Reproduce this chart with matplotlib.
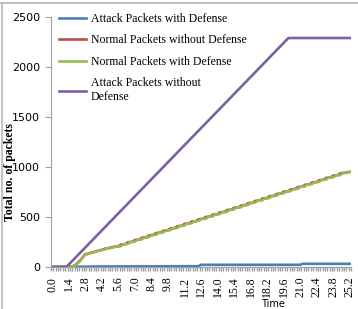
import matplotlib
matplotlib.use('Agg')
import matplotlib.pyplot as plt
import numpy as np
from matplotlib.lines import Line2D

# category axis: time steps 0.0 .. 25.2 every 0.2
time = np.round(np.arange(127) * 0.2, 1)
tick_labels = ['%.1f' % t for t in np.round(np.arange(0, 25.3, 1.4), 1)]

# blue and purple read as corner points
blue_t = [0.0, 4.0, 12.4, 12.6, 21.0, 21.2, 25.2]
blue_v = [0, 5, 8, 22, 22, 32, 32]
purple_t = [0.0, 1.2, 20.0, 25.2]
purple_v = [0, 0, 2290, 2290]

normal_no_def = [0, 0, 0, 0, 0, 0, 0, 0, 3, 10, 25, 45, 70, 100, 128, 132, 140, 147, 152, 160,
                 167, 171, 180, 187, 189, 196, 201, 204, 206, 224, 227, 229, 247, 250, 252, 270,
                 273, 275, 293, 296, 298, 316, 319, 321, 339, 342, 344, 362, 365, 367, 385, 388,
                 390, 408, 411, 413, 431, 434, 436, 454, 457, 459, 477, 480, 482, 500, 503, 505,
                 523, 526, 528, 546, 549, 551, 569, 572, 574, 592, 595, 597, 615, 618, 620, 638,
                 641, 643, 661, 664, 666, 684, 687, 689, 707, 710, 712, 730, 733, 735, 753, 756,
                 758, 776, 779, 781, 799, 802, 804, 822, 825, 827, 845, 848, 850, 868, 871, 873,
                 891, 894, 896, 914, 917, 919, 937, 940, 942, 948, 952]
normal_def = [0, 0, 0, 0, 0, 0, 0, 0, 2, 8, 20, 40, 65, 95, 125, 130, 135, 145, 150, 155,
              165, 170, 172, 185, 188, 190, 200, 202, 205, 207, 226, 228, 230, 249, 251, 253,
              272, 274, 276, 295, 297, 299, 318, 320, 322, 341, 343, 345, 364, 366, 368, 387,
              389, 391, 410, 412, 414, 433, 435, 437, 456, 458, 460, 479, 481, 483, 502, 504,
              506, 525, 527, 529, 548, 550, 552, 571, 573, 575, 594, 596, 598, 617, 619, 621,
              640, 642, 644, 663, 665, 667, 686, 688, 690, 709, 711, 713, 732, 734, 736, 755,
              757, 759, 778, 780, 782, 801, 803, 805, 824, 826, 828, 847, 849, 851, 870, 872,
              874, 893, 895, 897, 916, 918, 920, 939, 941, 943, 950]

W, H = 358, 309
fig = plt.figure(figsize=(W / 100, H / 100), dpi=100)
ax = fig.add_axes([51 / W, 42 / H, 300 / W, 250 / H])

ax.plot(blue_t, blue_v, color='#4a7ebb', lw=1.9, label='Attack Packets with Defense')
ax.plot(time, normal_no_def, color='#be4b48', lw=1.9, label='Normal Packets without Defense')
ax.plot(time, normal_def, color='#98b954', lw=1.9, label='Normal Packets with Defense')
ax.plot(purple_t, purple_v, color='#7d60a0', lw=1.9, label='Attack Packets without\nDefense')

ax.set_xlim(-0.1, 25.3)
ax.set_ylim(0, 2500)
ax.set_yticks(np.arange(0, 2501, 500))
ax.set_xticks(np.round(np.arange(0, 25.3, 1.4), 1))
ax.set_xticklabels(tick_labels, rotation=90, family='Liberation Serif', fontsize=8.5)
ax.set_xticks(np.arange(-0.1, 25.31, 0.2), minor=True)
ax.tick_params(axis='x', which='major', length=0, pad=7)
ax.tick_params(axis='x', which='minor', length=3, color='#a0a0a0', width=1)
ax.tick_params(axis='y', length=4, color='#a0a0a0', labelsize=8, pad=4)

for s in ['top', 'right']:
    ax.spines[s].set_visible(False)
ax.spines['left'].set_color('#a0a0a0')
ax.spines['bottom'].set_color('#a0a0a0')

ax.set_ylabel('Total no. of packets', family='Liberation Serif', fontsize=8.5, fontweight='bold')
ax.yaxis.set_label_coords(16 / W, 1 - 172 / H, transform=fig.transFigure)
fig.text(273 / W, 1 - 304 / H, 'Time', fontsize=7, ha='center', va='center')

leg = ax.legend(loc='upper left', bbox_to_anchor=(53 / W, 1 - 7 / H),
                bbox_transform=fig.transFigure, frameon=False, borderpad=0,
                handlelength=2.3, handletextpad=0.4, labelspacing=0.8,
                prop={'family': 'Liberation Serif', 'size': 8.5})

# outer gray border (top and left)
fig.add_artist(Line2D([0, 1], [1 - 3 / H, 1 - 3 / H], color='#b8b8b8', lw=1.2, transform=fig.transFigure))
fig.add_artist(Line2D([1.5 / W, 1.5 / W], [0, 1 - 3 / H], color='#b8b8b8', lw=1.2, transform=fig.transFigure))

plt.savefig('out.png', dpi=100)
